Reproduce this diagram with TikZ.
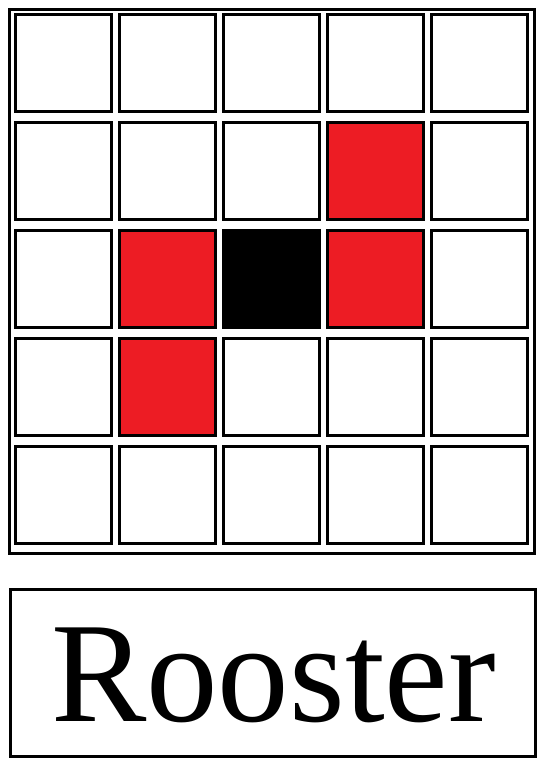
\documentclass[tikz,border=0pt]{standalone}
\usepackage{fontspec}
\setmainfont{Liberation Serif}
\definecolor{cellred}{HTML}{ED1C24}
\tikzset{
  cell/.style={draw=black, line width=3pt, fill=white, minimum width=96pt, minimum height=97pt, inner sep=0pt},
  frame/.style={draw=black, line width=3pt, inner sep=0pt},
}
\begin{document}
\begin{tikzpicture}[x=1pt, y=-1pt]
	\useasboundingbox (0,0) rectangle (552,777);
	\node[frame, minimum width=525pt, minimum height=544pt] (grid) at (272,281.5) {};
	\node[frame, minimum width=525pt, minimum height=167pt] (labelbox) at (272.5,673) {};
	% cells
	\foreach \i in {0,...,4}
		\foreach \j in {0,...,4}
			\node[cell] (c-\i-\j) at (63.5+104*\i, 63+108*\j) {};
	\foreach \i/\j in {3/1, 1/2, 3/2, 1/3}
		\node[cell, fill=cellred] at (c-\i-\j) {};
	\node[cell, fill=black] at (c-2-2) {};
	\node[anchor=base, inner sep=0pt, font=\fontsize{143}{143}\selectfont] (label) at (273.5,721) {Rooster};
\end{tikzpicture}
\end{document}
